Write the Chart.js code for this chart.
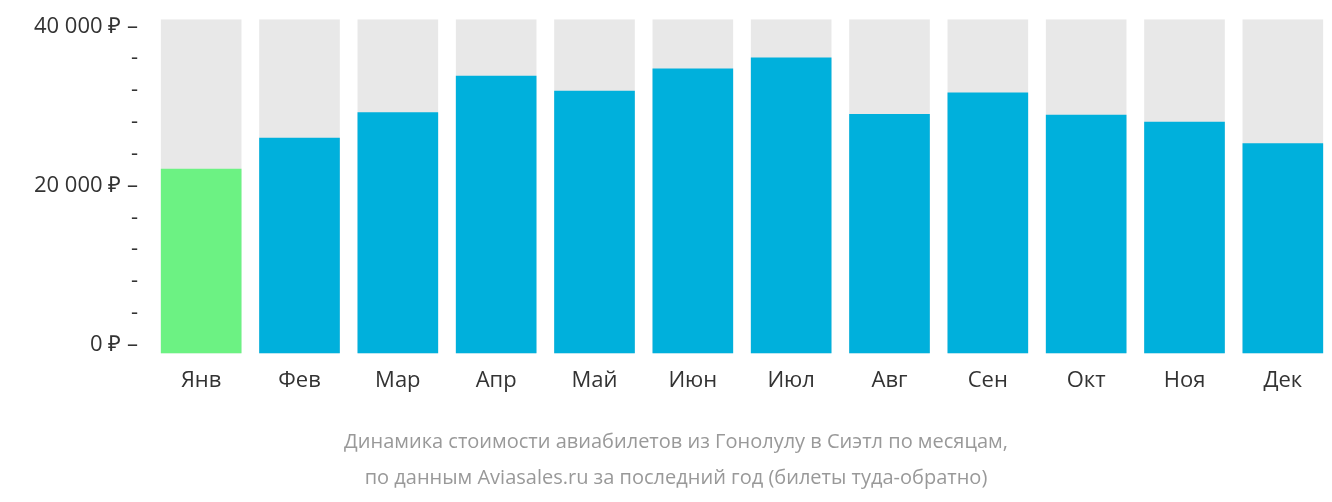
<!DOCTYPE html>
<html><head><meta charset="utf-8">
<script src="https://cdn.jsdelivr.net/npm/chart.js@4"></script>
<style>html,body{margin:0;padding:0;background:#fff}#w{width:1332px;height:502px}</style>
</head><body><div id="w"><canvas id="c"></canvas></div>
<script>
const months = ["Янв","Фев","Мар","Апр","Май","Июн","Июл","Авг","Сен","Окт","Ноя","Дек"];
const prices = [22100,26000,29200,33800,31900,34700,36100,29000,31700,28900,28000,25300];
const barColors = ["#6cf283","#00b0dc","#00b0dc","#00b0dc","#00b0dc","#00b0dc","#00b0dc","#00b0dc","#00b0dc","#00b0dc","#00b0dc","#00b0dc"];
const yMin = -1124, yMax = 40900;
const majorTicks = [0,20000,40000];
const titleLines = ["Динамика стоимости авиабилетов из Гонолулу в Сиэтл по месяцам,","по данным Aviasales.ru за последний год (билеты туда-обратно)"];
Chart.defaults.font.family = "'Open Sans', sans-serif";
new Chart(document.getElementById('c'), {
  type: 'bar',
  data: { labels: months, datasets: [
    { data: prices, backgroundColor: barColors, categoryPercentage: 1, barPercentage: 0.82, grouped:false, order:0, base: yMin },
    { data: months.map(()=>[yMin,yMax]), backgroundColor: '#e8e8e8', categoryPercentage: 1, barPercentage: 0.82, grouped:false, order:1 }
  ]},
  options: {
    responsive:true, maintainAspectRatio:false, animation:false,
    layout:{padding:{top:-18,right:-20,bottom:6,left:0}},
    plugins:{legend:{display:false},tooltip:{enabled:false},
      title:{display:true,position:'bottom',text:titleLines,color:'#999',font:{size:20,weight:'normal',lineHeight:1.8},padding:{top:24,bottom:0}}},
    scales:{
      x:{grid:{display:false},border:{display:false},ticks:{color:'#333',font:{size:22},padding:6}},
      y:{min:yMin,max:yMax,afterBuildTicks:(s)=>{const t=[];for(let v=0;v<=40000;v+=4000)t.push({value:v});s.ticks=t;},
        afterFit:(s)=>{s.width=152;},
        grid:{display:false},border:{display:false},
        ticks:{color:'#333',font:{size:22},padding:6,
          callback:(v)=>majorTicks.includes(v)?(v===0?'0':(v/1000)+' 000')+' ₽ –':'-'}}
    }
  }
});
</script></body></html>
